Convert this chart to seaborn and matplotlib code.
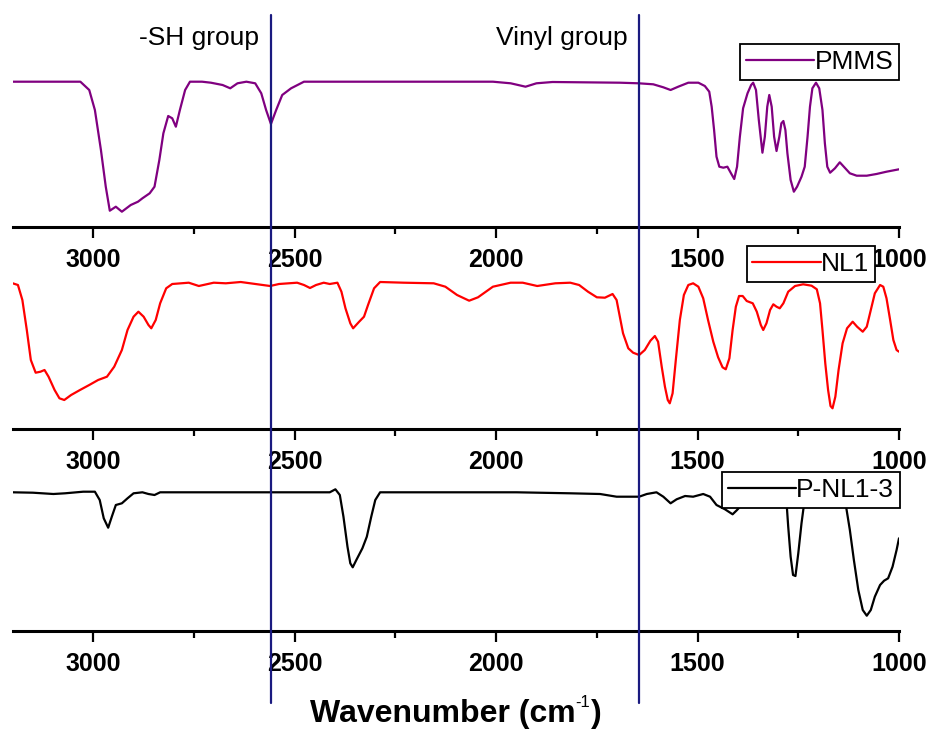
import matplotlib
matplotlib.use("Agg")
import matplotlib.pyplot as plt
import matplotlib.transforms as mtransforms
from matplotlib.lines import Line2D
from matplotlib.ticker import MultipleLocator
import pandas as pd
import seaborn as sns

# FTIR spectra, transmittance in arbitrary units
pmms_wn = [3200, 3032, 3010, 2996, 2981, 2969, 2959, 2944, 2929, 2907, 2889, 2878, 2860, 2848,
           2836, 2826, 2814, 2804, 2795, 2785, 2772, 2760, 2730, 2708, 2679, 2660, 2642, 2620,
           2598, 2583, 2571, 2559, 2546, 2531, 2509, 2477, 2008, 1964, 1927, 1900, 1860,
           1693, 1646, 1610, 1585, 1567, 1548, 1523, 1498, 1482, 1471, 1465, 1459, 1453, 1446,
           1436, 1426, 1417, 1409, 1402, 1395, 1387, 1376, 1367, 1362, 1355, 1348, 1339, 1333,
           1327, 1322, 1316, 1310, 1304, 1297, 1292, 1287, 1282, 1277, 1269, 1261, 1253, 1242,
           1234, 1227, 1221, 1215, 1206, 1198, 1190, 1184, 1178, 1171, 1159, 1147, 1137, 1122,
           1105, 1080, 1056, 1031, 1000]
pmms_t = [145.3, 145.3, 137, 117, 77, 40.3, 16.3, 20.3, 15.3, 22, 25.3, 28.7, 33.7, 40.3,
          67, 93.7, 111, 108.7, 100.3, 117, 137, 145.3, 145.3, 144.3, 142, 138.7, 143.7, 145.3,
          143.7, 133.7, 117, 103, 117, 132, 138.7, 145.3, 145.3, 143.7, 140.3, 143.7, 145,
          144.3, 143.7, 142.7, 139.7, 137, 140.3, 144.3, 144.3, 141, 135.3, 120.3, 97, 70.3, 60.3,
          59.3, 60.3, 53.7, 48, 60.3, 90.3, 118.7, 133.7, 142, 144.3, 137, 107, 74.3, 90.3,
          120.3, 132, 120.3, 90.3, 76, 90.3, 103.7, 106, 97, 73.7, 47, 35.3, 40.3, 50.3,
          60.3, 90.3, 120.3, 138.7, 144.3, 138.7, 117, 83.7, 60.3, 54.3, 58.7, 64.7, 60.3, 53.7,
          51.3, 51.3, 53, 55.3, 57.7]

nl1_wn = [3200, 3187, 3176, 3165, 3155, 3143, 3131, 3121, 3111, 3096, 3084, 3072, 3055, 3033,
          3010, 2988, 2966, 2948, 2929, 2915, 2900, 2888, 2875, 2863, 2856, 2845, 2834, 2819,
          2804, 2763, 2738, 2701, 2671, 2634, 2598, 2561, 2539, 2494, 2477, 2462, 2447, 2428,
          2413, 2394, 2384, 2374, 2362, 2355, 2340, 2328, 2318, 2303, 2288, 2229, 2155, 2126,
          2097, 2067, 2045, 2008, 1964, 1934, 1898, 1853, 1816, 1794, 1772, 1750,
          1730, 1711, 1701, 1693, 1685, 1672, 1660, 1645, 1631, 1617, 1606, 1598, 1589, 1581,
          1574, 1569, 1562, 1554, 1544, 1534, 1523, 1511, 1498, 1486, 1474, 1461, 1449, 1438,
          1430, 1421, 1413, 1405, 1397, 1388, 1378, 1363, 1353, 1343, 1337, 1329, 1320, 1312,
          1304, 1296, 1287, 1275, 1258, 1238, 1217, 1204, 1196, 1190, 1183, 1176, 1170, 1165,
          1158, 1150, 1140, 1129, 1115, 1104, 1090, 1080, 1070, 1060, 1047, 1039, 1031, 1022,
          1014, 1006, 1000]
nl1_t = [145.7, 144, 129, 99, 69, 56.3, 57.3, 59, 52.3, 39, 30.7, 29, 34, 39,
         44, 49, 52.3, 62.3, 79, 99, 112.3, 117.3, 112.3, 104, 100.7, 109, 125.7, 140.7,
         145, 146.3, 143, 146.3, 145.7, 147, 145, 143, 145, 146.3, 144, 141, 144, 146.3,
         145, 146.3, 137.3, 120.7, 105.7, 100.7, 107.3, 112.3, 124, 140.7, 147, 146.3, 145.7, 142.3,
         134, 128.3, 131.7, 142.3, 146.3, 146.3, 143, 145.7, 146.3, 144, 137.3, 131.7,
         131.3, 135, 129, 112.3, 95.7, 80.7, 76.3, 74, 79, 88.3, 93, 87.3, 62.3, 42.3,
         29, 25.7, 35.7, 69, 109, 134, 144, 145.7, 142.3, 130.7, 109, 87.3, 71.7, 61.7,
         59.7, 70.7, 99, 122.3, 133, 133, 128, 125.7, 117.3, 104, 99, 105.7, 119, 124.7,
         122.3, 120.7, 125.7, 137.3, 143, 144.7, 143.3, 139.7, 125.7, 99, 65.7, 39, 23, 20.7,
         32.3, 59, 85.7, 100.7, 107.3, 102.3, 97.3, 102.3, 119, 135.7, 144, 142.3, 130.7, 109,
         89, 79, 77.3]

pnl_wn = [3200, 3150, 3099, 3070, 3025, 2996, 2984, 2974, 2963, 2954, 2944, 2929, 2915, 2900,
          2878, 2863, 2848, 2834, 2413, 2399, 2388, 2379, 2369, 2362, 2356, 2347, 2332, 2321,
          2310, 2300, 2288, 1949, 1816, 1742, 1701, 1668, 1645, 1626, 1602, 1585, 1567, 1552,
          1531, 1511, 1486, 1469, 1453, 1432, 1413, 1402, 1387, 1366, 1340, 1310, 1290, 1279,
          1275, 1269, 1263, 1257, 1250, 1242, 1236, 1225, 1180, 1150, 1132, 1122, 1112, 1101,
          1090, 1080, 1070, 1060, 1047, 1037, 1027, 1016, 1006, 1000]
pnl_t = [138.7, 138.3, 137, 137.7, 139.3, 139.3, 131, 112.7, 103.3, 114.3, 126, 127.7, 132.7, 137.7,
         138.7, 137, 136, 138.7, 138.7, 141.7, 136, 114.3, 84.3, 67.7, 63.7, 71, 82.7, 94.3,
         114.3, 131, 138.7, 138.7, 137.7, 137, 134.3, 134.3, 134.3, 137, 138.7, 134.3, 127.7, 131.7,
         135, 134.3, 137, 134.3, 126, 121.7, 116.7, 121, 127.7, 125, 128, 130, 131, 127.7,
         104.3, 74.3, 56, 55, 77.7, 107.7, 126, 136, 137, 133, 126, 101, 71, 41,
         21, 15.3, 21, 34.3, 46, 50.3, 52.7, 64.3, 81, 92.7]

labels = ["PMMS", "NL1", "P-NL1-3"]
colors = ["#800080", "#ff0000", "#000000"]
marker_wn = [2560, 1645]
marker_text = ["-SH group", "Vinyl group"]

sns.set_style("white")
plt.rcParams["font.family"] = ["Liberation Sans", "DejaVu Sans"]
plt.rcParams["text.color"] = "black"
plt.rcParams["axes.labelcolor"] = "black"
plt.rcParams["xtick.color"] = "black"

W, H = 931, 733
fig = plt.figure(figsize=(W / 100, H / 100), dpi=100)

# panel geometry in pixels: (top, axis line)
panels = [(15, 227), (229, 429), (431, 631)]
legend_box = [(899, 44), (875, 246), (900, 472)]
series = [(pmms_wn, pmms_t), (nl1_wn, nl1_t), (pnl_wn, pnl_t)]
x0, x1 = 12.7, 899

axes = []
for i, ((top, bot), (wn, t)) in enumerate(zip(panels, series)):
    ax = fig.add_axes([x0 / W, 1 - bot / H, (x1 - x0) / W, (bot - top) / H])
    df = pd.DataFrame({"wn": wn, "T": t})
    sns.lineplot(data=df, x="wn", y="T", ax=ax, color=colors[i], lw=1.6,
                 label=labels[i], sort=False, estimator=None)
    ax.set_xlim(3200, 1000)
    ax.set_ylim(0, bot - top)
    ax.set_xlabel("")
    ax.set_ylabel("")
    ax.set_yticks([])
    for s in ["left", "right", "top"]:
        ax.spines[s].set_visible(False)
    ax.spines["bottom"].set_linewidth(2.2)
    ax.spines["bottom"].set_color("black")
    ax.xaxis.set_major_locator(MultipleLocator(500))
    ax.xaxis.set_minor_locator(MultipleLocator(250))
    ax.tick_params(axis="x", which="major", bottom=True, direction="out", length=8,
                   width=1.6, pad=7, labelsize=18, colors="black")
    ax.tick_params(axis="x", which="minor", bottom=True, direction="out", length=5, width=1.6)
    for lab in ax.get_xticklabels():
        lab.set_fontweight("bold")
    ax.patch.set_alpha(0)
    rx, ty = legend_box[i]
    leg = ax.legend(loc="upper right", bbox_to_anchor=(rx / W, 1 - ty / H),
                    bbox_transform=fig.transFigure, fontsize=19, frameon=True,
                    fancybox=False, framealpha=1, edgecolor="black", borderpad=0.22,
                    handlelength=2.6, handletextpad=0.0, borderaxespad=0)
    leg.get_frame().set_linewidth(1.3)
    leg.get_lines()[0].set_linewidth(1.6)
    axes.append(ax)

# vertical marker lines across all panels, with their labels just left of them
blend = mtransforms.blended_transform_factory(axes[0].transData, fig.transFigure)
shift = mtransforms.ScaledTranslation(-12 / 100, 0, fig.dpi_scale_trans)
for wn, txt in zip(marker_wn, marker_text):
    fig.add_artist(Line2D([wn, wn], [1 - 15 / H, 1 - 703 / H], transform=blend,
                          color="#1a1a80", lw=1.6, zorder=10))
    fig.text(wn, 1 - 45 / H, txt, transform=blend + shift, fontsize=19,
             ha="right", va="baseline")

# x label with a small hyphen superscript, centred under the axes
yb = 1 - 722 / H
t_main = fig.text(0, yb, "Wavenumber (cm", fontsize=23, fontweight="bold", va="baseline")
t_sup = fig.text(0, yb + 15 / H, "-1", fontsize=12, va="baseline")
t_end = fig.text(0, yb, ")", fontsize=23, fontweight="bold", va="baseline")
fig.canvas.draw()
r = fig.canvas.get_renderer()
w_main = t_main.get_window_extent(r).width
w_sup = t_sup.get_window_extent(r).width
w_end = t_end.get_window_extent(r).width
start = (x0 + x1) / 2 - (w_main + w_sup + 1 + w_end) / 2
t_main.set_x(start / W)
t_sup.set_x((start + w_main) / W)
t_end.set_x((start + w_main + w_sup + 1) / W)

fig.savefig("out.png", dpi=100)
